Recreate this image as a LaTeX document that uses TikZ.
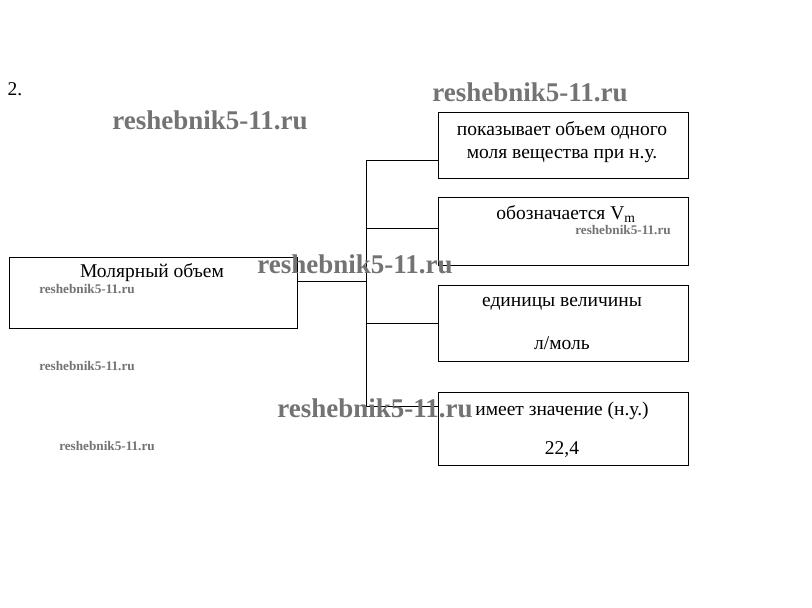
\documentclass[tikz,border=0pt]{standalone}
\usepackage{fontspec}
\setmainfont{Liberation Serif}
\usetikzlibrary{calc}
\begin{document}
\begin{tikzpicture}[x=1pt,y=-1pt,
  box/.style={draw=black,line width=0.9pt,minimum width=250pt,inner sep=0pt},
  txt/.style={font=\fontsize{19.5}{22}\selectfont,inner sep=0pt,anchor=center},
  conn/.style={draw=black,line width=0.9pt},
  wmbig/.style={font=\fontsize{27}{29}\selectfont\bfseries,text=black!55,inner sep=0pt},
  wmsmall/.style={font=\fontsize{13.2}{14}\selectfont\bfseries,text=black!55,inner sep=0pt}]
\useasboundingbox (0,0) rectangle (812,608);
\fill[white] (0,0) rectangle (812,608);
% boxes
\node[box,minimum width=288pt,minimum height=71pt] (left) at (153,292.5) {};
\node[box,minimum height=66pt] (b1) at (563,145) {};
\node[box,minimum height=68pt] (b2) at (563,231) {};
\node[box,minimum height=76pt] (b3) at (563,323) {};
\node[box,minimum height=73pt] (b4) at (563,428.5) {};
% texts
\node[txt] (n2) at (15,89) {2.};
\node[txt] (tl) at (152,273) {Молярный объем};
\node[txt] (t1a) at (562,130) {показывает объем одного};
\node[txt] (t1b) at (562,156) {моля вещества при н.у.};
\node[txt] (t2) at (566,214) {обозначается V\textsubscript{m}};
\node[txt] (t3a) at (562,304) {единицы величины};
\node[txt] (t3b) at (562,343) {л/моль};
\node[txt] (t4a) at (562,411) {имеет значение (н.у.)};
\node[txt] (t4b) at (562,450) {22,4};
% connectors
\coordinate (j) at (366,281);
\coordinate (c1) at (366,160);
\coordinate (c2) at (366,228);
\coordinate (c3) at (366,323);
\coordinate (c4) at (366,406);
\draw[conn] (left.east |- j) -- (j);
\draw[conn] (c1) -- (c4);
\draw[conn] (c1) -- (c1 -| b1.west);
\draw[conn] (c2) -- (c2 -| b2.west);
\draw[conn] (c3) -- (c3 -| b3.west);
\draw[conn] (c4) -- (c4 -| b4.west);
% watermarks
\node[wmbig] (w1) at (530,92) {reshebnik5-11.ru};
\node[wmbig] (w2) at (210,120) {reshebnik5-11.ru};
\node[wmbig] (w3) at (355,264) {reshebnik5-11.ru};
\node[wmbig] (w4) at (375,408) {reshebnik5-11.ru};
\node[wmsmall] (w5) at (623,230) {reshebnik5-11.ru};
\node[wmsmall] (w6) at (87,289) {reshebnik5-11.ru};
\node[wmsmall] (w7) at (87,366) {reshebnik5-11.ru};
\node[wmsmall] (w8) at (107,446) {reshebnik5-11.ru};
\end{tikzpicture}
\end{document}
